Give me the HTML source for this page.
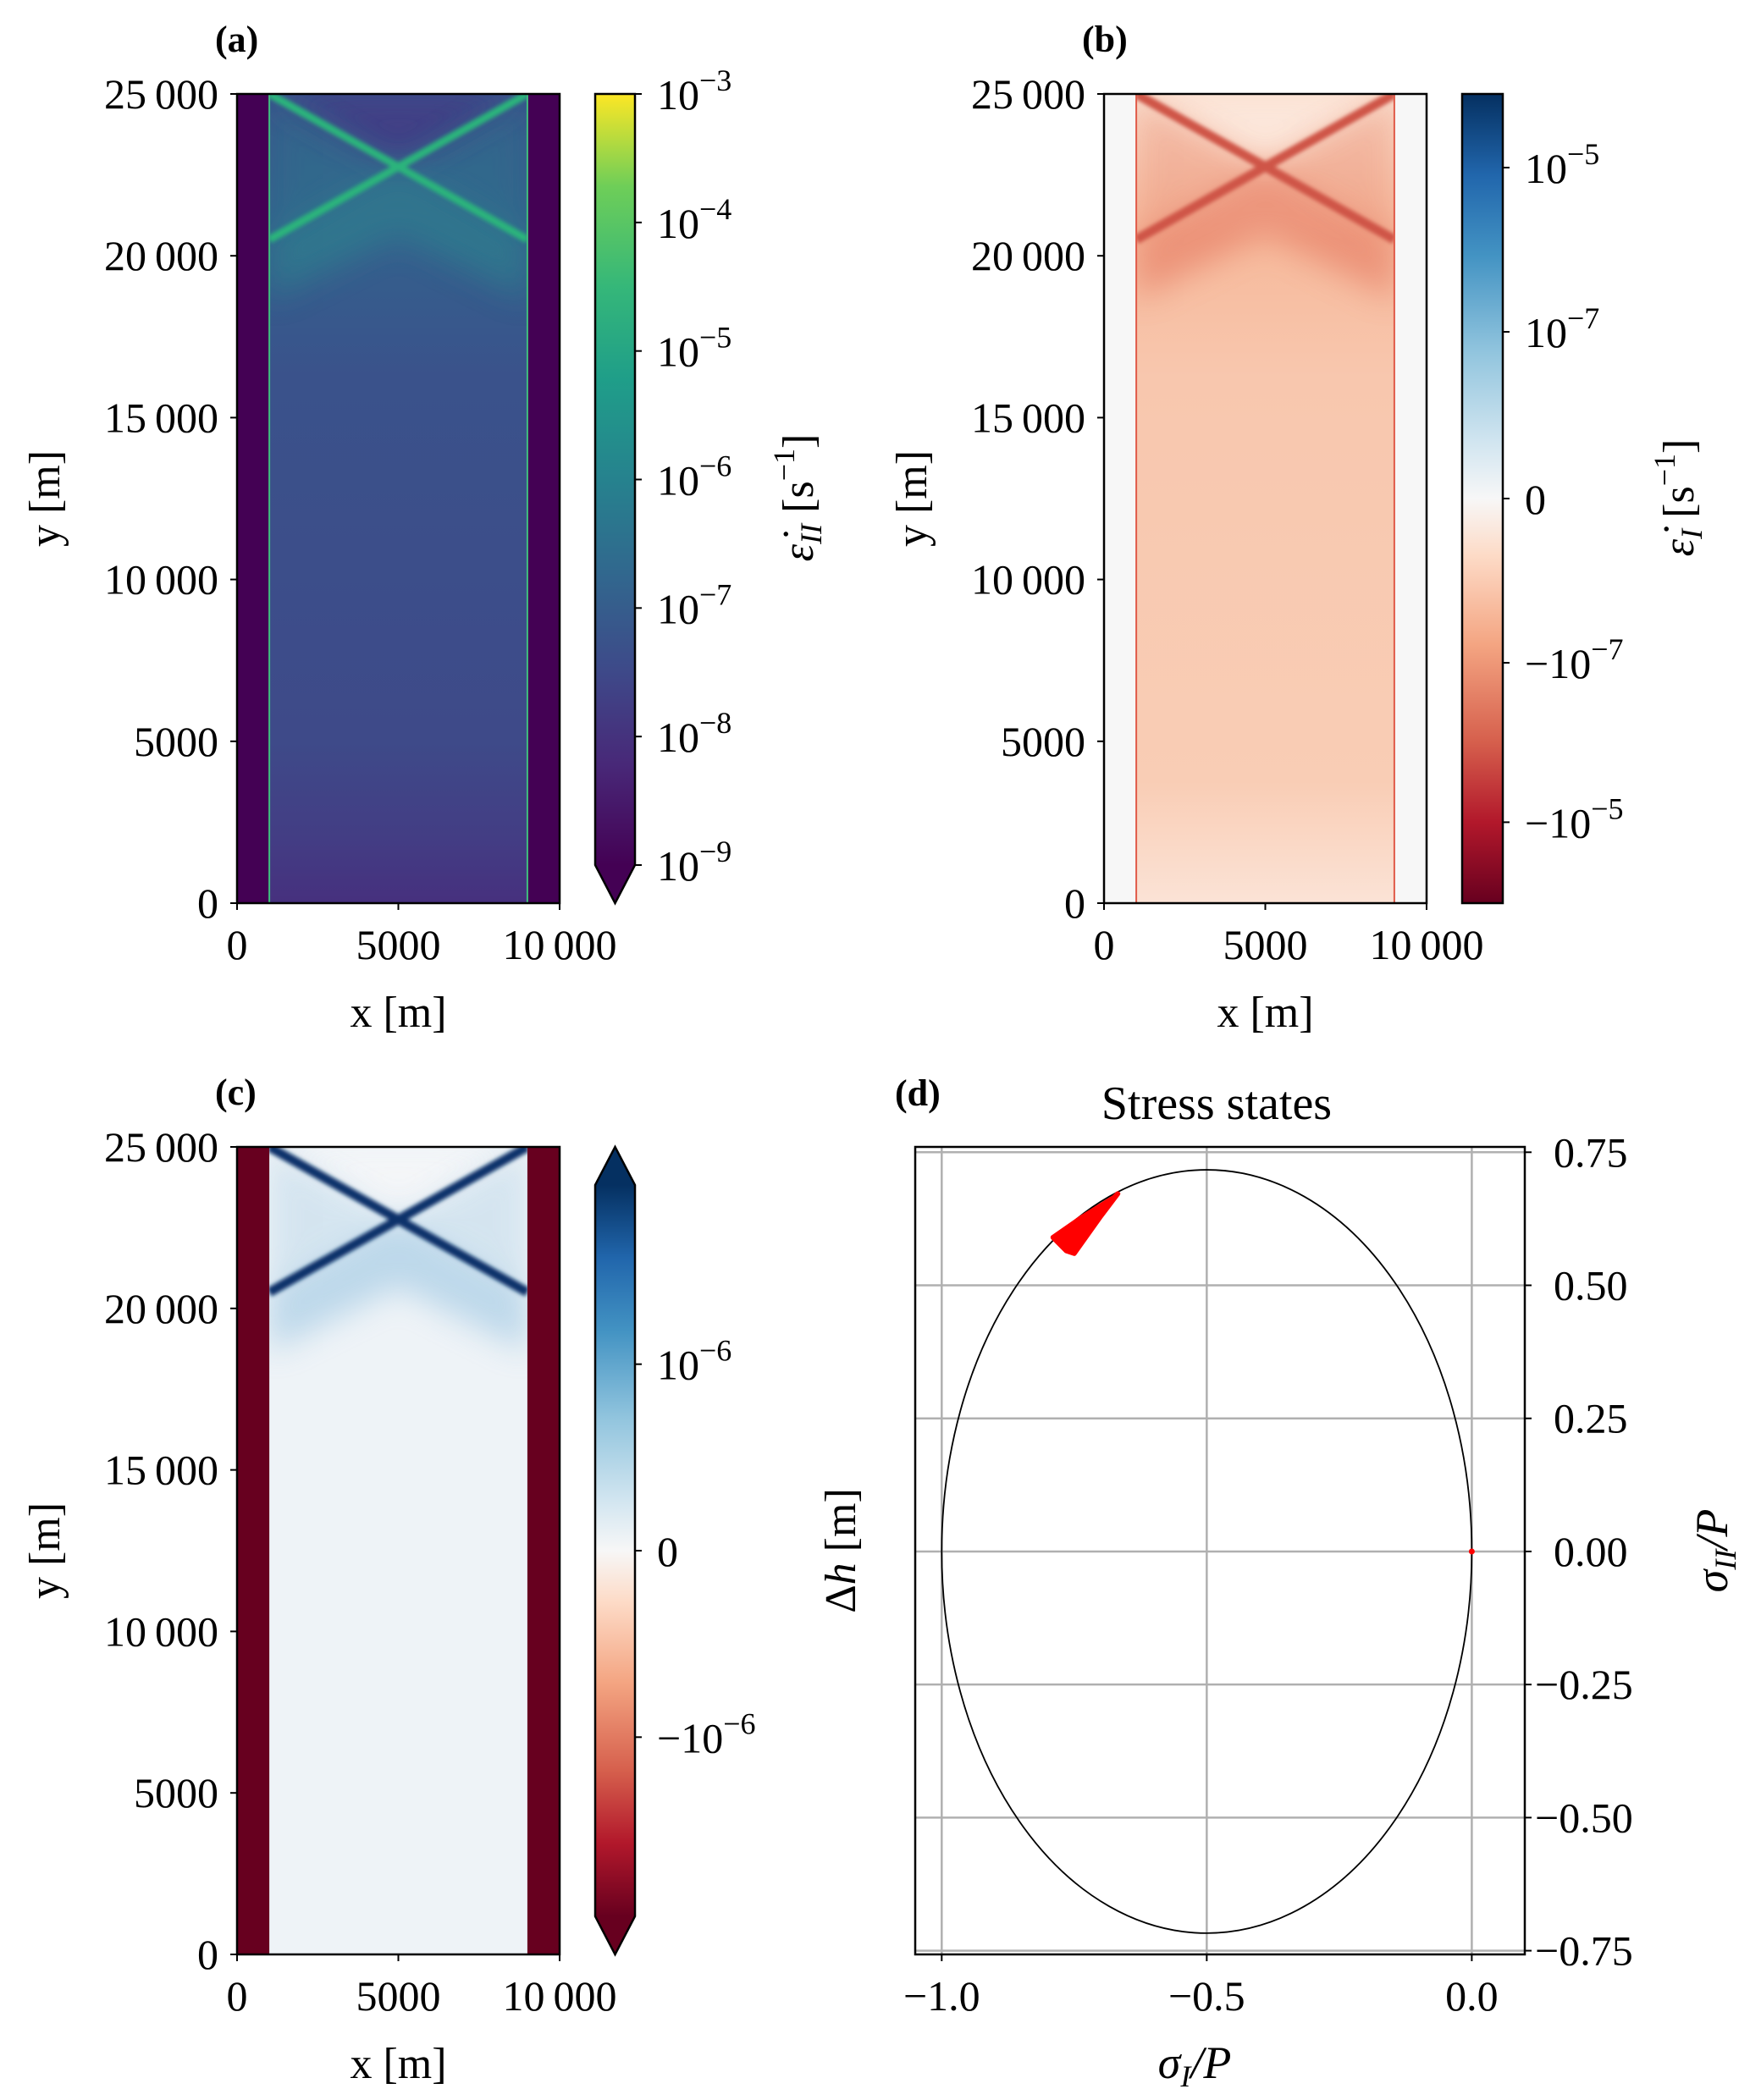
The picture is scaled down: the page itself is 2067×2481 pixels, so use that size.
<!DOCTYPE html>
<html><head><meta charset="utf-8">
<style>
html,body{margin:0;padding:0;background:#fff;}
svg{display:block;font-family:"Liberation Serif","DejaVu Serif",serif;}
</style></head>
<body>
<svg id="fig" xmlns="http://www.w3.org/2000/svg" width="2067" height="2481" viewBox="0 0 2067 2481">
<defs>
  <linearGradient id="viridisBar" x1="0" y1="1" x2="0" y2="0">
    <stop offset="0" stop-color="#440154"/><stop offset="0.13" stop-color="#482878"/>
    <stop offset="0.25" stop-color="#3e4989"/><stop offset="0.38" stop-color="#31688e"/>
    <stop offset="0.5" stop-color="#26828e"/><stop offset="0.63" stop-color="#1f9e89"/>
    <stop offset="0.75" stop-color="#35b779"/><stop offset="0.88" stop-color="#6ece58"/>
    <stop offset="1" stop-color="#fde725"/>
  </linearGradient>
  <linearGradient id="rdbuBar" x1="0" y1="1" x2="0" y2="0">
    <stop offset="0" stop-color="#67001f"/><stop offset="0.1" stop-color="#b2182b"/>
    <stop offset="0.2" stop-color="#d6604d"/><stop offset="0.32" stop-color="#f4a582"/>
    <stop offset="0.43" stop-color="#fddbc7"/><stop offset="0.5" stop-color="#f7f7f7"/>
    <stop offset="0.57" stop-color="#d1e5f0"/><stop offset="0.68" stop-color="#92c5de"/>
    <stop offset="0.8" stop-color="#4393c3"/><stop offset="0.9" stop-color="#2166ac"/>
    <stop offset="1" stop-color="#053061"/>
  </linearGradient>
  <linearGradient id="aInterior" x1="0" y1="0" x2="0" y2="1">
    <stop offset="0" stop-color="#3a548c"/><stop offset="0.18" stop-color="#34618d"/>
    <stop offset="0.35" stop-color="#3a528b"/><stop offset="0.8" stop-color="#3e4a89"/>
    <stop offset="0.92" stop-color="#433d84"/><stop offset="1" stop-color="#46307e"/>
  </linearGradient>
  <linearGradient id="bInterior" x1="0" y1="0" x2="0" y2="1">
    <stop offset="0" stop-color="#fbe0d0"/><stop offset="0.18" stop-color="#f6b99b"/>
    <stop offset="0.35" stop-color="#f8c7ae"/><stop offset="0.85" stop-color="#f9cdb5"/>
    <stop offset="1" stop-color="#fbe3d6"/>
  </linearGradient>
  <filter id="blur2" x="-20%" y="-20%" width="140%" height="140%"><feGaussianBlur stdDeviation="2.5"/></filter>
  <filter id="blur16" x="-20%" y="-20%" width="140%" height="140%"><feGaussianBlur stdDeviation="18"/></filter>
  <clipPath id="clipA"><rect x="280" y="111" width="381" height="956"/></clipPath>
  <clipPath id="clipB"><rect x="1304" y="111" width="381" height="956"/></clipPath>
  <clipPath id="clipC"><rect x="280" y="1355" width="381" height="954"/></clipPath>
  <clipPath id="clipD"><rect x="1081" y="1355" width="720" height="954"/></clipPath>
</defs>
<g id="root"></g>
</svg>
<script>
// ---- data ----
const fieldXTicks = [0, 5000, 10000];
const fieldXTickLabels = ["0", "5000", "10\u2009000"];
const fieldYTicks = [0, 5000, 10000, 15000, 20000, 25000];
const fieldYTickLabels = ["0", "5000", "10\u2009000", "15\u2009000", "20\u2009000", "25\u2009000"];
const innerXRange = [1000, 9000];          // deforming domain
const bandYLow = [20500];                  // shear band lower ends (y)
const bandYHigh = [25000];                 // shear band upper ends (y)
const cbarAExponents = [-3, -4, -5, -6, -7, -8, -9];
const cbarBLabels = ["10^-5", "10^-7", "0", "-10^-7", "-10^-5"];
const cbarBPos = [0.909, 0.706, 0.5, 0.297, 0.1];
const cbarCLabels = ["10^-6", "0", "-10^-6"];
const cbarCPos = [0.755, 0.5, 0.245];
const stressXTicks = [-1.0, -0.5, 0.0];
const stressXTickLabels = ["\u22121.0", "\u22120.5", "0.0"];
const stressYTicks = [0.75, 0.5, 0.25, 0, -0.25, -0.5, -0.75];
const stressYTickLabels = ["0.75", "0.50", "0.25", "0.00", "\u22120.25", "\u22120.50", "\u22120.75"];
const yieldCenter = [-0.5, 0];
const yieldRadii = [0.5, 0.717];
const stressWedgeX = [-0.79, -0.735, -0.675, -0.668, -0.70, -0.75, -0.765];
const stressWedgeY = [0.59, 0.628, 0.665, 0.672, 0.63, 0.56, 0.565];
const stressDotX = [0.0];
const stressDotY = [0.0];

const NS = "http://www.w3.org/2000/svg";
const root = document.getElementById("root");
function mk(tag, attrs, parent) {
  const e = document.createElementNS(NS, tag);
  for (const k in attrs) e.setAttribute(k, attrs[k]);
  (parent || root).appendChild(e);
  return e;
}
function txt(s, x, y, size, anchor, parent, extra) {
  const t = mk("text", Object.assign({x: x, y: y, "font-size": size, "text-anchor": anchor || "middle", fill: "#000"}, extra || {}), parent);
  t.textContent = s;
  return t;
}
function supText(base, exp, x, y, parent) {
  const t = mk("text", {x: x, y: y, "font-size": 50, fill: "#000"}, parent);
  const a = mk("tspan", {}, t); a.textContent = base;
  const b = mk("tspan", {dy: -22, "font-size": 36}, t); b.textContent = exp;
  return t;
}

// ---- field panels ----
function fieldPanel(id, L, T, W, H, clip, opts) {
  const g = mk("g", {});
  
  
  const sx = v => L + v / 10000 * W;
  const sy = v => T + H - v / 25000 * H;
  const plot = mk("g", {"clip-path": "url(#" + clip + ")"}, g);
  
  
  const bg = mk("rect", {x: L, y: T, width: W, height: H, fill: opts.side}, plot);
  
  
  const x0 = sx(innerXRange[0]), x1 = sx(innerXRange[1]);
  const inner = mk("rect", {x: x0, y: T, width: x1 - x0, height: H, fill: opts.inner}, plot);
  
  
  const ic = mk("g", {}, plot);
  const clipId = id + "-innerclip";
  const cp = mk("clipPath", {id: clipId}, plot);
  mk("rect", {x: x0, y: T, width: x1 - x0, height: H}, cp);
  ic.setAttribute("clip-path", "url(#" + clipId + ")");
  const yl = sy(bandYLow[0]), yh = sy(bandYHigh[0]);
  const xm = (x0 + x1) / 2, ym = (yl + yh) / 2;
  if (opts.topFill) {
    const tri = mk("polygon", {points: `${x0},${yh} ${x1},${yh} ${xm},${ym}`, fill: opts.topFill, filter: "url(#blur16)", opacity: 0.9}, ic);
    
    
  }
  if (opts.glow) {
    // fan halo below the lower arms of the X
    const gl = mk("g", {filter: "url(#blur16)", opacity: opts.glowOp}, ic);
    mk("polygon", {points: `${x0},${yl} ${xm},${ym} ${x1},${yl} ${x1},${yl + 70} ${xm},${ym + 80} ${x0},${yl + 70}`, fill: opts.glow}, gl);
    mk("polygon", {points: `${x0},${yh} ${xm},${ym} ${x0},${yl}`, fill: opts.glow, opacity: 0.5}, gl);
    mk("polygon", {points: `${x1},${yh} ${xm},${ym} ${x1},${yl}`, fill: opts.glow, opacity: 0.5}, gl);
    
    
  }
  const bl = mk("g", {filter: "url(#blur2)"}, ic);
  const l1 = mk("line", {x1: x0, y1: yl, x2: x1, y2: yh, stroke: opts.band, "stroke-width": opts.bandW}, bl);
  
  
  const l2 = mk("line", {x1: x0, y1: yh, x2: x1, y2: yl, stroke: opts.band, "stroke-width": opts.bandW}, bl);
  
  
  if (opts.edge) {
    mk("line", {x1: x0, y1: T, x2: x0, y2: T + H, stroke: opts.edge, "stroke-width": 2}, plot);
    mk("line", {x1: x1, y1: T, x2: x1, y2: T + H, stroke: opts.edge, "stroke-width": 2}, plot);
  }
  const frame = mk("rect", {x: L, y: T, width: W, height: H, fill: "none", stroke: "#000", "stroke-width": 2.5}, g);
  
  
  fieldXTicks.forEach((v, i) => {
    mk("line", {x1: sx(v), y1: T + H, x2: sx(v), y2: T + H + 8, stroke: "#000", "stroke-width": 2}, g);
    const t = txt(fieldXTickLabels[i], sx(v), T + H + 66, 50, "middle", g);
    
    
  });
  fieldYTicks.forEach((v, i) => {
    mk("line", {x1: L - 8, y1: sy(v), x2: L, y2: sy(v), stroke: "#000", "stroke-width": 2}, g);
    const t = txt(fieldYTickLabels[i], L - 22, sy(v) + 17, 50, "end", g);
    
    
  });
  const xl = txt("x [m]", L + W / 2, T + H + 146, 52, "middle", g);
  
  
  const ylb = txt("y [m]", 0, 0, 52, "middle", g, {transform: `translate(${L - 210},${T + H / 2}) rotate(-90)`});
  
  
  const pl = txt(opts.letter, L - 26, T - 50, 44, "start", g, {"font-weight": "bold"});
  
  
  return g;
}

fieldPanel("panel-a", 280, 111, 381, 956, "clipA",
  {side: "#440154", inner: "url(#aInterior)", band: "#2ab47c", bandW: 9, glow: "#2e7f8e", glowOp: 0.7,
   topFill: "#433e85", edge: "#3fbf7f", letter: "(a)"});
fieldPanel("panel-b", 1304, 111, 381, 956, "clipB",
  {side: "#f7f7f7", inner: "url(#bInterior)", band: "#cf5547", bandW: 11, glow: "#e8836a", glowOp: 0.7,
   topFill: "#fce8dd", edge: "#e05a48", letter: "(b)"});
fieldPanel("panel-c", 280, 1355, 381, 954, "clipC",
  {side: "#67001f", inner: "#eef3f7", band: "#08306b", bandW: 11, glow: "#9cc6e2", glowOp: 0.6,
   topFill: "#f4f6f8", edge: null, letter: "(c)"});

// ---- colorbars ----
function cbar(id, x, w, top, bot, fill, triTop, triBot) {
  const g = mk("g", {});
  
  
  let d = `M${x},${top} `;
  if (triTop) d = `M${x},${top} L${x + w / 2},${triTop} L${x + w},${top} `; else d += `L${x + w},${top} `;
  if (triBot) d += `L${x + w},${bot} L${x + w / 2},${triBot} L${x},${bot} Z`; else d += `L${x + w},${bot} L${x},${bot} Z`;
  const gid = id + "-grad";
  const lg = mk("linearGradient", {id: gid, gradientUnits: "userSpaceOnUse", x1: 0, y1: bot, x2: 0, y2: top}, g);
  const src = document.getElementById(fill);
  Array.from(src.children).forEach(s => mk("stop", {offset: s.getAttribute("offset"), "stop-color": s.getAttribute("stop-color")}, lg));
  const body = mk("path", {d: d, fill: `url(#${gid})`, stroke: "#000", "stroke-width": 2.5}, g);
  
  
  return g;
}
const cA = cbar("colorbar-a", 703, 47, 111, 1022, "viridisBar", null, 1067);
cbarAExponents.forEach((e, i) => {
  const y = 111 + (1022 - 111) * i / (cbarAExponents.length - 1);
  mk("line", {x1: 750, y1: y, x2: 758, y2: y, stroke: "#000", "stroke-width": 2}, cA);
  const t = supText("10", "\u2212" + Math.abs(e), 776, y + 18, cA);
  
  
});
const cAl = mk("text", {transform: "translate(960,588) rotate(-90)", "text-anchor": "middle", "font-size": 52}, cA);
cAl.innerHTML = '<tspan font-style="italic">ε̇</tspan><tspan font-style="italic" font-size="36" dy="10">II</tspan><tspan dy="-10"> [s</tspan><tspan font-size="36" dy="-22">−1</tspan><tspan dy="22">]</tspan>';



const cB = cbar("colorbar-b", 1727, 48, 111, 1067, "rdbuBar", null, null);
cbarBLabels.forEach((s, i) => {
  const y = 1067 - (1067 - 111) * cbarBPos[i];
  mk("line", {x1: 1775, y1: y, x2: 1783, y2: y, stroke: "#000", "stroke-width": 2}, cB);
  let t;
  if (s === "0") t = txt("0", 1801, y + 18, 50, "start", cB);
  else {
    const neg = s[0] === "-";
    const ex = s.split("^")[1].replace("-", "\u2212");
    t = supText((neg ? "\u2212" : "") + "10", ex, 1801, y + 18, cB);
  }
  
  
});
const cBl = mk("text", {transform: "translate(2000,588) rotate(-90)", "text-anchor": "middle", "font-size": 52}, cB);
cBl.innerHTML = '<tspan font-style="italic">ε̇</tspan><tspan font-style="italic" font-size="36" dy="10">I</tspan><tspan dy="-10"> [s</tspan><tspan font-size="36" dy="-22">−1</tspan><tspan dy="22">]</tspan>';



const cC = cbar("colorbar-c", 703, 47, 1400, 2264, "rdbuBar", 1355, 2309);
cbarCLabels.forEach((s, i) => {
  const y = 2264 - (2264 - 1400) * cbarCPos[i];
  mk("line", {x1: 750, y1: y, x2: 758, y2: y, stroke: "#000", "stroke-width": 2}, cC);
  let t;
  if (s === "0") t = txt("0", 776, y + 18, 50, "start", cC);
  else {
    const neg = s[0] === "-";
    t = supText((neg ? "\u2212" : "") + "10", "\u22126", 776, y + 18, cC);
  }
  
  
});

// ---- panel d ----
(function () {
  const L = 1081, R = 1801, T = 1355, B = 2309;
  const xmin = -1.05, xmax = 0.1, ymin = -0.757, ymax = 0.76;
  const sx = v => L + (v - xmin) / (xmax - xmin) * (R - L);
  const sy = v => B - (v - ymin) / (ymax - ymin) * (B - T);
  const g = mk("g", {});
  
  
  const pg = mk("g", {"clip-path": "url(#clipD)"}, g);
  stressXTicks.forEach(v => {
    const l = mk("line", {x1: sx(v), y1: T, x2: sx(v), y2: B, stroke: "#b0b0b0", "stroke-width": 2.5}, pg);
    
    
  });
  stressYTicks.forEach(v => {
    const l = mk("line", {x1: L, y1: sy(v), x2: R, y2: sy(v), stroke: "#b0b0b0", "stroke-width": 2.5}, pg);
    
    
  });
  const el = mk("ellipse", {cx: sx(yieldCenter[0]), cy: sy(yieldCenter[1]),
    rx: sx(yieldCenter[0] + yieldRadii[0]) - sx(yieldCenter[0]),
    ry: sy(yieldCenter[1]) - sy(yieldCenter[1] + yieldRadii[1]),
    fill: "none", stroke: "#000", "stroke-width": 1.8}, pg);
  
  
  const pts = stressWedgeX.map((x, i) => sx(x) + "," + sy(stressWedgeY[i])).join(" ");
  const w = mk("polygon", {points: pts, fill: "#ff0000", stroke: "#ff0000", "stroke-width": 6, "stroke-linejoin": "round"}, pg);
  
  
  stressDotX.forEach((x, i) => {
    const c = mk("circle", {cx: sx(x), cy: sy(stressDotY[i]), r: 3.5, fill: "#ff0000"}, pg);
    
    
  });
  const fr = mk("rect", {x: L, y: T, width: R - L, height: B - T, fill: "none", stroke: "#000", "stroke-width": 2.5}, g);
  
  
  stressXTicks.forEach((v, i) => {
    mk("line", {x1: sx(v), y1: B, x2: sx(v), y2: B + 8, stroke: "#000", "stroke-width": 2}, g);
    const t = txt(stressXTickLabels[i], sx(v), B + 66, 50, "middle", g);
    
    
  });
  stressYTicks.forEach((v, i) => {
    mk("line", {x1: R, y1: sy(v), x2: R + 8, y2: sy(v), stroke: "#000", "stroke-width": 2}, g);
    const t = txt(stressYTickLabels[i], v < 0 ? R + 12 : R + 34, sy(v) + 17, 50, "start", g);
    
    
  });
  const xt = mk("text", {x: (L + R) / 2 - 30, y: B + 146, "text-anchor": "middle", "font-size": 54}, g);
  xt.innerHTML = '<tspan font-style="italic">σ</tspan><tspan font-style="italic" font-size="36" dy="10">I</tspan><tspan dy="-10" font-style="italic">/P</tspan>';
  
  
  const yt = mk("text", {transform: `translate(2040,${(T + B) / 2}) rotate(-90)`, "text-anchor": "middle", "font-size": 54}, g);
  yt.innerHTML = '<tspan font-style="italic">σ</tspan><tspan font-style="italic" font-size="36" dy="10">II</tspan><tspan dy="-10" font-style="italic">/P</tspan>';
  
  
  const lt = mk("text", {transform: `translate(1010,${(T + B) / 2}) rotate(-90)`, "text-anchor": "middle", "font-size": 52}, g);
  lt.innerHTML = 'Δ<tspan font-style="italic">h</tspan> [m]';
  
  
  const title = txt("Stress  states", 1437, 1322, 56, "middle", g);
  
  
  const pl = txt("(d)", 1057, 1306, 44, "start", g, {"font-weight": "bold"});
  
  
})();
</script>
</body></html>
